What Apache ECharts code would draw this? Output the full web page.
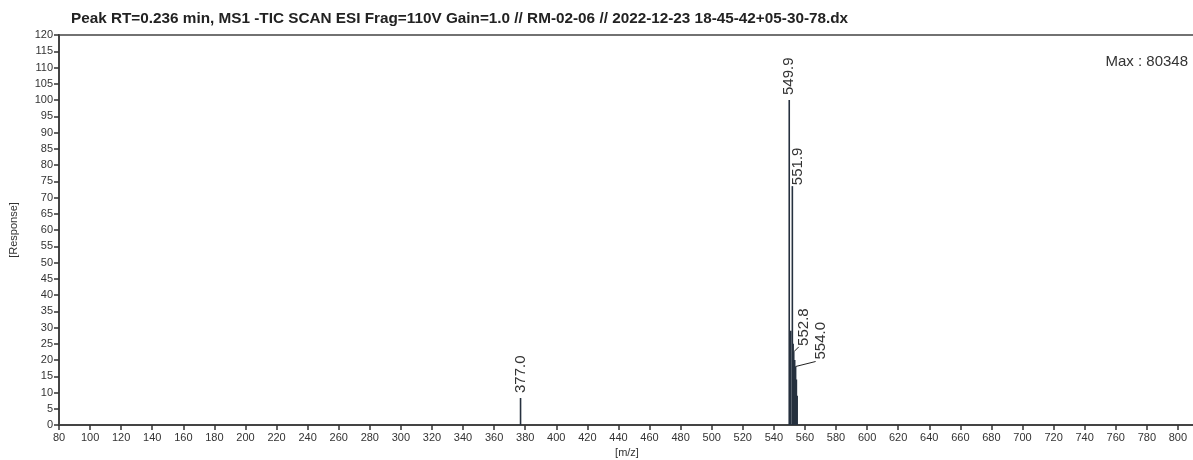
<!DOCTYPE html>
<html>
<head>
<meta charset="utf-8">
<script src="https://cdn.jsdelivr.net/npm/echarts@6/dist/echarts.min.js"></script>
<style>html,body{margin:0;padding:0;background:#fff}#c{width:1193px;height:460px}</style>
</head>
<body>
<div id="c"></div>
<script>
const titleText = 'Peak RT=0.236 min, MS1 -TIC SCAN ESI Frag=110V Gain=1.0 // RM-02-06 // 2022-12-23 18-45-42+05-30-78.dx';
const maxText = 'Max : 80348';
const xName = '[m/z]';
const yName = '[Response]';
const xTicks = [80,100,120,140,160,180,200,220,240,260,280,300,320,340,360,380,400,420,440,460,480,500,520,540,560,580,600,620,640,660,680,700,720,740,760,780,800];
const yTicks = [0,5,10,15,20,25,30,35,40,45,50,55,60,65,70,75,80,85,90,95,100,105,110,115,120];
const peakMz = [377.0, 549.9, 550.5, 550.9, 551.9, 552.4, 552.8, 553.4, 554.0, 554.5, 555.0];
const peakInt = [8.3, 100, 27, 29, 73.5, 25, 22.5, 20, 18, 14, 9];
const labelMz = [377.0, 549.9, 551.9, 552.8, 554.0];
const labelInt = [8.3, 100, 73.5, 22.5, 18];

// screen-pixel placement of each annotation relative to its peak top
const labelPlace = [
  {tx: 0, ty: -5, lx: 0, ly: 0},
  {tx: 0, ty: -5, lx: 0, ly: 0},
  {tx: 6, ty: -1, lx: 0, ly: 0},
  {tx: 10, ty: -6, lx: 5, ly: -5},
  {tx: 25, ty: -7, lx: 20, ly: -5}
];

const chart = echarts.init(document.getElementById('c'));
const fam = 'Liberation Sans, Arial, sans-serif';
const axisFont = {fontFamily: fam, fontSize: 11, color: '#333'};
chart.setOption({
  animation: false,
  backgroundColor: '#fff',
  title: [
    {text: titleText, left: 66, top: 6, textStyle: {fontFamily: fam, fontSize: 15.3, fontWeight: 'bold', color: '#222'}},
    {text: maxText, right: 0, top: 49, textStyle: {fontFamily: fam, fontSize: 15, fontWeight: 'normal', color: '#333'}}
  ],
  grid: {left: 59, right: -2, top: 35, bottom: 35, containLabel: false, outerBoundsMode: 'none', show: true, borderColor: '#444', borderWidth: 1.5},
  xAxis: {
    type: 'value', min: 80, max: 811,
    name: xName, nameLocation: 'middle', nameGap: 22,
    nameTextStyle: {fontFamily: fam, fontSize: 11, color: '#333'},
    axisLine: {show: true, lineStyle: {color: '#444', width: 2}},
    axisTick: {show: true, length: 5, customValues: xTicks, lineStyle: {color: '#333', width: 1.5}},
    axisLabel: {customValues: xTicks, margin: 7, ...axisFont},
    splitLine: {show: false}
  },
  yAxis: {
    type: 'value', min: 0, max: 120, interval: 5,
    name: yName, nameLocation: 'middle', nameGap: 40, nameRotate: 90,
    nameTextStyle: {fontFamily: fam, fontSize: 11, color: '#333'},
    axisLine: {show: true, lineStyle: {color: '#444', width: 2}},
    axisTick: {show: true, length: 5, lineStyle: {color: '#333', width: 1.5}},
    axisLabel: {margin: 6, ...axisFont},
    splitLine: {show: false}
  },
  series: [
    {
      type: 'bar',
      barWidth: 1.6,
      barGap: '-100%',
      itemStyle: {color: '#26313f'},
      data: peakMz.map((m, i) => [m, peakInt[i]]),
      silent: true
    },
    {
      type: 'custom',
      silent: true,
      data: labelMz.map((m, i) => [m, labelInt[i]]),
      renderItem: (params, api) => {
        const i = params.dataIndex;
        const pt = api.coord([api.value(0), api.value(1)]);
        const pl = labelPlace[i];
        const children = [{
          type: 'text',
          x: pt[0] + pl.tx,
          y: pt[1] + pl.ty,
          rotation: Math.PI / 2,
          style: {
            text: api.value(0).toFixed(1),
            x: 0, y: 0,
            align: 'left',
            verticalAlign: 'middle',
            font: '15px ' + fam,
            fill: '#333'
          }
        }];
        if (pl.lx || pl.ly) {
          children.push({
            type: 'line',
            shape: {x1: pt[0], y1: pt[1], x2: pt[0] + pl.lx, y2: pt[1] + pl.ly},
            style: {stroke: '#222', lineWidth: 1}
          });
        }
        return {type: 'group', children};
      }
    }
  ]
});
</script>
</body>
</html>
